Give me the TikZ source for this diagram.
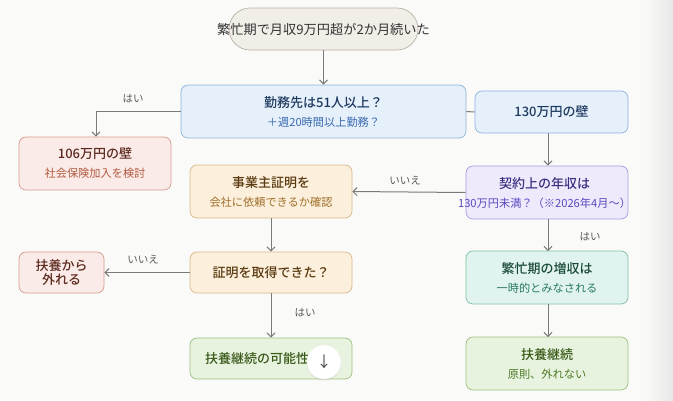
\documentclass[tikz,border=0pt]{standalone}
\usepackage{fontspec}
\setmainfont{Noto Sans CJK JP}[BoldFont={Noto Sans CJK JP Medium}]
\usetikzlibrary{arrows.meta,shadows}
\definecolor{bg}{HTML}{FAFAF8}
\definecolor{lineg}{HTML}{7A7A7A}
\definecolor{labg}{HTML}{5A5A5A}
\definecolor{topf}{HTML}{F1EEE8}\definecolor{topd}{HTML}{B8B2A6}
\definecolor{bluef}{HTML}{E5F0FB}\definecolor{blued}{HTML}{8DB3DE}\definecolor{bluet}{HTML}{1E3A5F}\definecolor{blues}{HTML}{3A6AB0}
\definecolor{redf}{HTML}{FBEBE8}\definecolor{redd}{HTML}{D79A8E}\definecolor{redt}{HTML}{5C2A1E}\definecolor{reds}{HTML}{B25A40}
\definecolor{purf}{HTML}{EEEAFC}\definecolor{purd}{HTML}{A99CE0}\definecolor{purt}{HTML}{3C2F80}\definecolor{purs}{HTML}{5A48C0}
\definecolor{orf}{HTML}{FCEFDC}\definecolor{ord}{HTML}{D8B78A}\definecolor{ort}{HTML}{5A3A10}\definecolor{ors}{HTML}{A0702A}
\definecolor{tealf}{HTML}{E0F3EE}\definecolor{teald}{HTML}{80C0AA}\definecolor{tealt}{HTML}{1A4A3A}\definecolor{teals}{HTML}{2A7A60}
\definecolor{grf}{HTML}{E8F3DF}\definecolor{grd}{HTML}{9CC080}\definecolor{grt}{HTML}{3A5A1A}\definecolor{grs}{HTML}{4E7A28}
\tikzset{
  box/.style={draw, rounded corners=7pt, line width=0.7pt, align=center, inner sep=0pt},
  conn/.style={draw=lineg, line width=1pt, -{Straight Barb[length=4pt,width=8pt]}},
  lab/.style={text=labg, font=\fontsize{10.5}{12}\selectfont},
}
\newcommand{\tl}[2]{{\color{#1}\bfseries\fontsize{13}{15}\selectfont #2}}
\newcommand{\sbl}[2]{{\color{#1}\fontsize{11.2}{13}\selectfont #2}}
\begin{document}
\begin{tikzpicture}[x=1pt,y=-1pt]
\fill[bg] (0,0) rectangle (673,400);
\shade[left color=bg, right color=black!9] (645,0) rectangle (673,400);
\useasboundingbox (0,0) rectangle (673,400);

% top stadium
\node[box, draw=topd, fill=topf, rounded corners=21pt, minimum width=189pt, minimum height=42pt] (start) at (323.5,29) {};
\node[font=\fontsize{13.2}{15}\selectfont, text=black!80] (starttext) at (323.5,29.5) {繁忙期で月収9万円超が2か月続いた};

% first question
\node[box, draw=blued, fill=bluef, minimum width=285pt, minimum height=53pt] (q1) at (323.5,111.5)
  {\tl{bluet}{勤務先は51人以上？}\\[7pt]\sbl{blues}{＋週20時間以上勤務？}};
\node[box, draw=blued, fill=bluef, minimum width=153pt, minimum height=42pt] (w130) at (551.5,112)
  {\tl{bluet}{130万円の壁}};

\node[box, draw=redd, fill=redf, minimum width=152pt, minimum height=53pt] (w106) at (95,163.5)
  {\tl{redt}{106万円の壁}\\[7pt]\sbl{reds}{社会保険加入を検討}};

\node[box, draw=purd, fill=purf, minimum width=162pt, minimum height=53pt] (contract) at (547,192.5) {};
\node[align=center, inner sep=0pt] (contracttext) at (544.5,193)
  {\tl{purt}{契約上の年収は}\\[7pt]\sbl{purs}{130万円未満？（※2026年4月〜）}};

\node[box, draw=ord, fill=orf, minimum width=162pt, minimum height=53pt] (cert) at (271,191.5)
  {\tl{ort}{事業主証明を}\\[7pt]\sbl{ors}{会社に依頼できるか確認}};

\node[box, draw=ord, fill=orf, minimum width=162pt, minimum height=41pt] (got) at (271,272.5)
  {\tl{ort}{証明を取得できた？}};

\node[box, draw=redd, fill=redf, minimum width=85pt, minimum height=41pt] (out) at (61.5,272.5)
  {\tl{redt}{扶養から}\\[1pt]\tl{redt}{外れる}};

\node[box, draw=grd, fill=grf, minimum width=162pt, minimum height=41pt] (maybe) at (271,358.5) {};
\node[anchor=west, inner sep=0pt] (maybetext) at (205,358.5) {\tl{grt}{扶養継続の可能性}};

\node[box, draw=teald, fill=tealf, minimum width=162pt, minimum height=53pt] (busy) at (547,277.5)
  {\tl{tealt}{繁忙期の増収は}\\[7pt]\sbl{teals}{一時的とみなされる}};

\node[box, draw=grd, fill=grf, minimum width=162pt, minimum height=53pt] (keep) at (547,363.5)
  {\tl{grt}{扶養継続}\\[7pt]\sbl{grs}{原則、外れない}};

% connectors
\draw[conn] (start.south) -- (q1.north);
\draw[draw=lineg, line width=1pt] (q1.east) -- (w130.west);
\coordinate (c1) at (96,111.5);
\draw[conn] (q1.west) -- (c1) -- (c1 |- w106.north);
\node[lab] (l1) at (133,99) {はい};
\draw[conn] (548,133) -- (548,165.5);
\draw[conn] (contract.west) -- (cert.east);
\node[lab] (l2) at (405,181) {いいえ};
\draw[conn] (cert.south) -- (got.north);
\draw[conn] (got.west) -- (out.east);
\node[lab] (l3) at (143,260) {いいえ};
\draw[conn] (got.south) -- (maybe.north);
\node[lab] (l4) at (305,313) {はい};
\draw[conn] (548,219) -- (548,251);
\node[lab] (l5) at (590,237) {はい};
\draw[conn] (548,304) -- (548,337);

% floating button
\node[circle, fill=white, minimum size=34pt, inner sep=0pt, draw=black!6,
  drop shadow={shadow xshift=0pt, shadow yshift=-1.5pt, opacity=0.12}] (btn) at (324,362)
  {\fontsize{15}{15}\selectfont\color{black!75}↓};
\end{tikzpicture}
\end{document}
